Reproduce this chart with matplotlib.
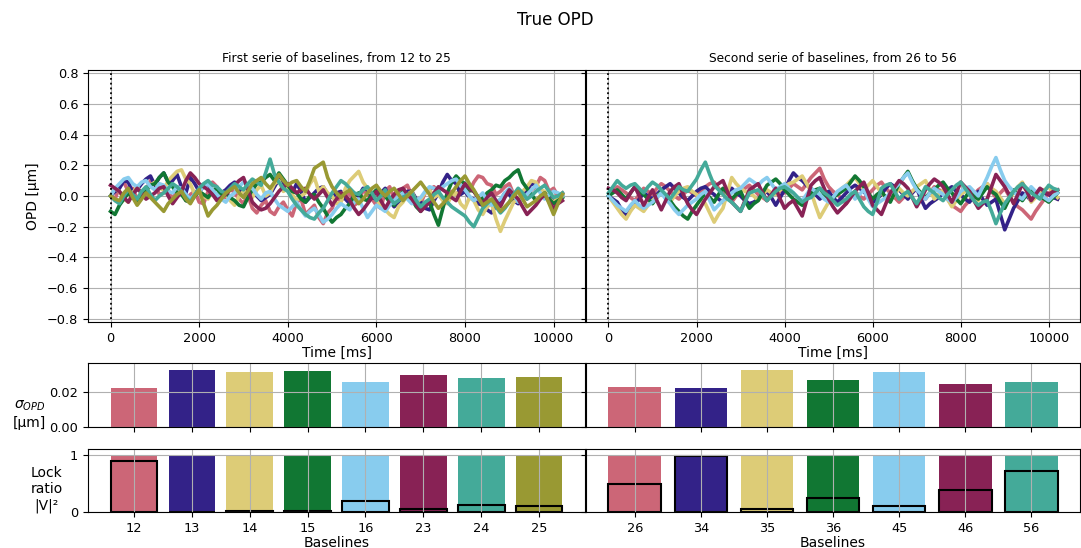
import matplotlib
matplotlib.use('Agg')
import matplotlib.pyplot as plt
import numpy as np

# Paul Tol "muted" colours, one per baseline
colors = ['#CC6677', '#332288', '#DDCC77', '#117733', '#88CCEE', '#882255', '#44AA99', '#999933']

dt = 100  # ms between samples

baselines_1 = ['12', '13', '14', '15', '16', '23', '24', '25']
baselines_2 = ['26', '34', '35', '36', '45', '46', '56']

# OPD traces [um], first serie
opd_12 = [0.00, -0.02, 0.06, 0.09, 0.03, 0.05, -0.02, 0.01, 0.04, 0.10, 0.08, 0.01, 0.02, 0.04, -0.03, 0.06, 0.05, -0.03, 0.01, 0.03, -0.04, -0.05, 0.03, 0.09, 0.06, 0.00, -0.01, 0.05, 0.02, -0.02, -0.05, 0.01, -0.08, -0.11, -0.06, -0.03, -0.10, -0.12, -0.07, -0.04, -0.09, -0.13, -0.04, -0.02, -0.12, -0.09, -0.06, -0.14, -0.18, -0.11, -0.08, -0.01, -0.03, 0.00, 0.02, -0.06, -0.04, 0.04, 0.01, -0.02, -0.06, -0.08, 0.03, 0.06, -0.02, 0.01, 0.05, 0.07, 0.00, -0.03, -0.05, 0.02, 0.04, 0.06, 0.02, -0.02, -0.03, 0.03, 0.01, 0.04, 0.06, 0.03, 0.09, 0.13, 0.12, 0.08, 0.07, 0.01, 0.03, 0.06, 0.08, 0.01, 0.04, 0.00, -0.02, 0.04, 0.06, 0.12, 0.10, 0.03, 0.05, 0.00, 0.02]
opd_13 = [0.00, 0.03, 0.05, 0.10, 0.09, 0.02, 0.04, 0.08, 0.11, 0.13, 0.07, 0.12, 0.15, 0.09, 0.10, 0.14, 0.06, 0.02, 0.12, 0.08, 0.03, 0.06, 0.08, 0.03, -0.02, 0.02, 0.04, 0.07, 0.09, 0.04, 0.02, 0.05, 0.06, 0.00, -0.03, -0.01, 0.01, 0.06, 0.11, 0.07, 0.05, 0.02, 0.08, 0.03, -0.04, -0.01, 0.02, 0.05, 0.06, 0.01, -0.01, 0.02, 0.03, -0.02, -0.05, 0.01, 0.00, 0.05, 0.04, -0.01, -0.02, 0.02, 0.05, -0.03, -0.07, -0.04, -0.01, 0.03, 0.03, -0.02, -0.04, -0.08, -0.09, -0.03, 0.02, 0.09, 0.14, 0.10, 0.08, 0.01, 0.03, -0.01, -0.02, -0.05, -0.06, -0.09, -0.11, -0.06, -0.03, 0.02, 0.01, -0.03, -0.05, 0.01, 0.04, 0.08, 0.07, 0.03, 0.02, -0.01, -0.03, 0.00, 0.01]
opd_14 = [0.00, 0.05, 0.03, -0.02, -0.04, 0.02, 0.06, 0.01, 0.02, 0.07, 0.09, 0.05, 0.04, 0.10, 0.13, 0.16, 0.17, 0.11, 0.08, 0.01, 0.03, 0.00, -0.02, 0.04, 0.05, -0.01, 0.01, -0.03, -0.06, 0.00, 0.03, 0.05, -0.01, 0.04, 0.07, 0.00, 0.02, 0.08, 0.10, 0.03, 0.05, 0.01, -0.03, 0.00, 0.02, 0.08, 0.12, 0.03, 0.06, 0.02, 0.00, -0.05, -0.04, 0.05, 0.10, 0.13, 0.16, 0.09, 0.05, 0.01, -0.02, -0.06, -0.09, -0.12, -0.14, -0.07, -0.04, 0.01, 0.03, -0.04, -0.02, 0.02, 0.04, -0.01, 0.01, -0.03, -0.05, 0.00, 0.02, -0.05, -0.08, -0.01, -0.03, -0.09, -0.12, -0.07, -0.05, -0.15, -0.23, -0.16, -0.10, -0.04, -0.02, 0.03, 0.06, 0.10, 0.09, 0.04, 0.03, -0.02, -0.04, -0.01, 0.01]
opd_15 = [-0.10, -0.12, -0.06, -0.02, 0.02, -0.01, -0.03, 0.01, 0.04, 0.07, 0.08, 0.12, 0.15, 0.09, 0.06, 0.02, 0.01, -0.03, -0.04, 0.00, 0.03, 0.01, -0.01, 0.03, 0.05, 0.00, 0.02, -0.01, -0.03, -0.06, -0.07, -0.01, 0.04, 0.08, 0.09, 0.12, 0.14, 0.10, 0.15, 0.11, 0.07, 0.03, 0.02, -0.02, -0.04, 0.00, 0.01, -0.04, -0.08, -0.13, -0.17, -0.14, -0.12, -0.08, -0.05, 0.00, 0.02, -0.02, -0.03, 0.01, 0.04, 0.02, 0.00, -0.04, -0.06, -0.01, 0.03, 0.00, -0.02, -0.07, -0.10, -0.06, -0.04, -0.12, -0.19, -0.08, 0.02, 0.09, 0.13, 0.10, 0.08, 0.04, 0.03, -0.01, -0.02, 0.02, 0.04, 0.07, 0.06, 0.10, 0.12, 0.15, 0.17, 0.09, 0.05, 0.01, -0.03, -0.01, 0.02, -0.02, -0.05, -0.03, -0.01]
opd_16 = [0.00, 0.05, 0.08, 0.11, 0.12, 0.08, 0.06, 0.09, 0.10, 0.06, 0.04, 0.08, 0.07, 0.03, 0.02, 0.06, 0.05, 0.01, -0.02, 0.01, 0.03, 0.06, 0.08, 0.04, 0.01, -0.02, -0.04, 0.00, 0.02, 0.06, 0.09, 0.07, 0.05, 0.01, -0.02, 0.02, 0.03, -0.02, -0.06, -0.08, -0.10, -0.07, -0.04, -0.09, -0.13, -0.10, -0.08, -0.12, -0.17, -0.15, -0.12, -0.08, -0.05, -0.07, -0.09, -0.04, -0.02, -0.08, -0.14, -0.10, -0.06, -0.08, -0.10, -0.06, -0.03, 0.00, 0.02, -0.02, -0.05, -0.03, -0.01, 0.03, 0.06, 0.05, 0.03, 0.06, 0.08, 0.10, 0.11, 0.07, 0.04, 0.00, -0.03, -0.01, 0.02, -0.03, -0.06, -0.04, -0.02, 0.02, 0.05, 0.01, -0.04, -0.02, 0.01, 0.04, 0.07, 0.02, -0.02, 0.01, 0.03, 0.02, 0.00]
opd_23 = [0.07, 0.05, 0.03, -0.01, -0.04, 0.01, 0.05, 0.02, -0.02, 0.00, 0.02, 0.05, 0.06, 0.00, -0.05, -0.01, 0.03, 0.10, 0.15, 0.12, 0.08, 0.06, 0.04, 0.01, -0.03, -0.01, 0.01, 0.04, 0.07, 0.10, 0.12, 0.04, -0.04, -0.07, -0.09, -0.08, -0.05, -0.01, 0.03, 0.06, 0.08, 0.05, 0.02, 0.04, 0.05, 0.01, -0.02, 0.01, 0.04, -0.01, -0.06, -0.02, 0.02, 0.00, -0.03, -0.08, -0.12, -0.09, -0.05, -0.01, 0.03, -0.03, -0.08, -0.03, 0.01, 0.04, 0.05, 0.01, -0.02, -0.06, -0.10, -0.07, -0.04, 0.02, 0.06, 0.04, 0.02, -0.01, -0.03, 0.03, 0.08, 0.05, 0.03, -0.01, -0.05, -0.01, 0.02, -0.03, -0.07, -0.01, 0.04, 0.01, -0.02, -0.07, -0.12, -0.09, -0.06, -0.02, 0.01, -0.04, -0.08, -0.05, -0.03]
opd_24 = [0.00, -0.03, -0.05, 0.00, 0.04, 0.01, -0.02, 0.03, 0.06, 0.01, -0.03, 0.00, 0.02, 0.05, 0.08, 0.06, 0.03, -0.01, -0.04, 0.01, 0.05, 0.08, 0.10, 0.07, 0.06, 0.03, 0.02, 0.05, 0.08, 0.06, 0.04, 0.08, 0.11, 0.09, 0.07, 0.15, 0.24, 0.14, 0.09, 0.05, 0.03, -0.02, -0.06, -0.09, -0.12, -0.14, -0.15, -0.11, -0.08, -0.03, 0.02, 0.06, 0.10, 0.08, 0.05, 0.02, 0.01, 0.04, 0.06, 0.02, -0.03, 0.00, 0.04, -0.01, -0.05, -0.03, -0.01, 0.01, 0.02, -0.03, -0.07, -0.04, -0.02, 0.01, 0.03, -0.01, -0.04, -0.07, -0.09, -0.11, -0.13, -0.17, -0.20, -0.14, -0.08, -0.05, -0.02, -0.07, -0.11, -0.08, -0.04, 0.01, 0.05, 0.02, -0.02, 0.00, 0.03, 0.05, 0.07, 0.03, -0.01, 0.00, 0.02]
opd_25 = [0.00, -0.02, -0.03, 0.02, 0.05, -0.01, -0.06, -0.02, 0.02, -0.01, -0.04, -0.07, -0.10, -0.05, -0.02, 0.01, 0.03, -0.02, -0.05, 0.00, 0.04, -0.05, -0.13, -0.09, -0.06, -0.02, 0.02, 0.04, 0.06, 0.02, -0.01, 0.03, 0.08, 0.10, 0.12, 0.08, 0.05, 0.09, 0.14, 0.10, 0.07, 0.09, 0.10, 0.06, 0.03, 0.10, 0.18, 0.20, 0.22, 0.12, 0.06, 0.02, -0.01, 0.02, 0.04, -0.01, -0.05, -0.02, 0.02, 0.05, 0.07, 0.03, 0.00, 0.03, 0.05, 0.01, -0.03, 0.00, 0.03, 0.06, 0.09, 0.05, 0.01, -0.04, -0.08, -0.05, -0.02, 0.02, 0.06, 0.10, 0.13, 0.08, 0.04, -0.01, -0.06, -0.04, -0.02, -0.06, -0.10, -0.07, -0.04, 0.00, 0.03, -0.02, -0.07, -0.05, -0.03, 0.00, 0.02, -0.05, -0.12, -0.05, 0.01]

# OPD traces [um], second serie
opd_26 = [0.00, 0.03, 0.06, 0.04, 0.02, -0.01, -0.03, 0.01, 0.05, 0.03, 0.01, 0.05, 0.08, 0.06, 0.03, 0.00, -0.02, 0.01, 0.04, 0.02, 0.00, 0.03, 0.06, 0.08, 0.09, 0.05, 0.02, -0.01, -0.04, 0.00, 0.03, 0.05, 0.07, 0.04, 0.01, -0.01, -0.03, 0.01, 0.05, 0.03, 0.02, 0.05, 0.08, 0.06, 0.04, 0.08, 0.12, 0.15, 0.18, 0.11, 0.06, 0.03, 0.01, -0.02, -0.05, -0.01, 0.03, 0.00, -0.02, 0.01, 0.04, 0.07, 0.09, 0.05, 0.02, -0.01, -0.04, -0.01, 0.01, 0.03, 0.05, 0.01, -0.02, 0.02, 0.06, 0.04, 0.03, -0.02, -0.06, -0.08, -0.10, -0.06, -0.03, 0.01, 0.04, 0.06, 0.08, 0.03, -0.01, 0.02, 0.05, 0.00, -0.04, -0.07, -0.09, -0.12, -0.15, -0.10, -0.06, -0.02, 0.02, 0.00, -0.02]
opd_34 = [0.00, -0.02, -0.04, -0.09, -0.12, -0.09, -0.06, -0.02, 0.02, 0.00, -0.02, 0.01, 0.04, 0.06, 0.08, 0.05, 0.02, -0.01, -0.03, 0.00, 0.03, 0.05, 0.06, 0.03, 0.01, -0.02, -0.04, 0.01, 0.05, 0.02, 0.00, -0.03, -0.05, -0.04, -0.02, 0.01, 0.03, -0.01, -0.06, -0.01, 0.04, 0.10, 0.15, 0.12, 0.10, 0.07, 0.05, 0.01, -0.02, 0.01, 0.03, -0.01, -0.04, -0.01, 0.02, 0.05, 0.07, 0.05, 0.03, -0.01, -0.05, -0.02, 0.01, 0.05, 0.08, 0.06, 0.04, 0.01, -0.02, 0.02, 0.05, -0.02, -0.08, -0.05, -0.03, -0.01, 0.02, 0.04, 0.06, 0.03, 0.01, -0.02, -0.04, 0.00, 0.03, -0.02, -0.06, -0.04, -0.02, -0.12, -0.22, -0.15, -0.08, -0.03, 0.02, 0.00, -0.03, 0.01, 0.04, 0.02, 0.01, -0.01, -0.02]
opd_35 = [0.00, -0.04, -0.08, -0.12, -0.15, -0.10, -0.06, -0.08, -0.10, -0.06, -0.03, 0.00, 0.02, -0.01, -0.04, 0.00, 0.03, 0.05, 0.06, 0.03, 0.01, -0.02, -0.05, -0.11, -0.17, -0.12, -0.08, 0.02, 0.12, 0.08, 0.05, 0.03, 0.02, 0.00, -0.03, 0.01, 0.04, 0.02, 0.01, 0.04, 0.06, 0.08, 0.09, 0.11, 0.13, 0.08, 0.03, -0.06, -0.14, -0.09, -0.04, -0.01, 0.02, 0.05, 0.07, 0.10, 0.12, 0.08, 0.04, 0.07, 0.10, 0.06, 0.02, -0.01, -0.03, 0.01, 0.05, 0.02, 0.00, 0.03, 0.06, 0.08, 0.10, 0.04, -0.02, 0.01, 0.04, -0.02, -0.07, -0.03, 0.01, 0.03, 0.05, 0.01, -0.03, 0.03, 0.08, 0.05, 0.03, -0.01, -0.05, -0.02, 0.02, 0.06, 0.09, 0.03, -0.04, -0.01, 0.02, 0.04, 0.06, 0.02, -0.01]
opd_36 = [0.00, 0.02, 0.04, 0.01, -0.02, 0.02, 0.06, 0.03, 0.01, -0.02, -0.05, -0.01, 0.03, 0.00, -0.03, -0.07, -0.10, -0.13, -0.15, -0.10, -0.06, -0.02, 0.02, -0.01, -0.04, 0.01, 0.05, 0.02, -0.02, 0.01, 0.03, -0.03, -0.08, -0.05, -0.03, 0.02, 0.07, 0.09, 0.11, 0.08, 0.04, 0.01, -0.02, -0.04, -0.06, -0.02, 0.02, 0.04, 0.05, 0.01, -0.03, -0.01, 0.01, 0.03, 0.05, 0.09, 0.13, 0.10, 0.06, 0.02, -0.02, 0.01, 0.03, -0.01, -0.04, 0.02, 0.08, 0.12, 0.16, 0.10, 0.05, 0.02, -0.01, 0.02, 0.04, 0.07, 0.09, 0.05, 0.02, -0.02, -0.05, -0.01, 0.03, 0.00, -0.02, 0.02, 0.06, 0.03, 0.01, -0.04, -0.08, -0.02, 0.04, 0.00, -0.03, 0.01, 0.05, 0.02, 0.00, -0.02, -0.04, -0.01, 0.02]
opd_45 = [0.00, -0.03, -0.06, -0.08, -0.10, -0.06, -0.03, -0.06, -0.08, -0.06, -0.04, -0.01, 0.02, -0.02, -0.05, -0.09, -0.12, -0.09, -0.06, -0.04, -0.02, 0.01, 0.03, -0.03, -0.09, -0.06, -0.03, -0.01, 0.02, 0.04, 0.05, 0.08, 0.11, 0.09, 0.07, 0.10, 0.12, 0.08, 0.04, 0.06, 0.08, 0.05, 0.02, -0.01, -0.03, 0.01, 0.05, 0.03, 0.01, -0.02, -0.04, -0.01, 0.03, 0.05, 0.07, 0.03, -0.02, 0.01, 0.04, -0.02, -0.07, -0.05, -0.03, -0.01, 0.02, 0.05, 0.08, 0.12, 0.15, 0.09, 0.04, 0.01, -0.02, 0.02, 0.05, 0.03, 0.01, -0.02, -0.04, -0.01, 0.03, 0.05, 0.06, 0.03, 0.00, 0.06, 0.12, 0.19, 0.25, 0.17, 0.10, 0.06, 0.03, 0.00, -0.02, 0.02, 0.06, 0.03, 0.01, -0.01, -0.03, 0.00, 0.02]
opd_46 = [0.05, 0.04, 0.02, -0.01, -0.03, 0.02, 0.06, 0.00, -0.06, -0.01, 0.04, -0.03, -0.09, -0.03, 0.03, 0.06, 0.08, 0.01, -0.05, -0.09, -0.12, -0.07, -0.02, 0.02, 0.06, 0.08, 0.10, 0.03, -0.04, -0.07, -0.10, -0.03, 0.04, 0.06, 0.08, 0.02, -0.03, 0.01, 0.05, -0.02, -0.08, -0.05, -0.03, -0.08, -0.13, -0.03, 0.07, 0.10, 0.12, 0.05, -0.02, -0.07, -0.11, -0.08, -0.05, -0.01, 0.03, 0.06, 0.09, 0.02, -0.06, -0.09, -0.12, -0.05, 0.02, 0.06, 0.10, 0.08, 0.05, -0.01, -0.07, -0.02, 0.04, 0.08, 0.11, 0.09, 0.06, 0.01, -0.04, 0.02, 0.09, 0.06, 0.03, -0.03, -0.08, -0.05, -0.02, 0.06, 0.14, 0.10, 0.06, 0.01, -0.05, 0.01, 0.08, 0.03, -0.03, 0.01, 0.05, 0.03, 0.01, 0.03, 0.04]
opd_56 = [0.02, 0.06, 0.10, 0.07, 0.05, 0.07, 0.08, 0.05, 0.02, 0.06, 0.09, 0.07, 0.04, 0.01, -0.02, 0.02, 0.06, 0.04, 0.03, 0.07, 0.11, 0.17, 0.22, 0.14, 0.07, 0.04, 0.01, -0.02, -0.04, -0.07, -0.10, -0.04, 0.02, 0.03, 0.04, 0.01, -0.03, 0.00, 0.03, 0.05, 0.06, 0.04, 0.02, -0.01, -0.04, -0.02, -0.01, 0.02, 0.05, 0.02, 0.00, -0.03, -0.06, -0.04, -0.02, 0.01, 0.03, -0.02, -0.07, -0.10, -0.12, -0.04, 0.05, 0.07, 0.08, 0.03, -0.02, 0.01, 0.03, -0.01, -0.05, 0.00, 0.06, 0.04, 0.02, -0.01, -0.03, 0.01, 0.04, 0.07, 0.09, 0.05, 0.01, -0.03, -0.06, -0.04, -0.03, -0.10, -0.18, -0.11, -0.05, -0.01, 0.03, 0.06, 0.08, 0.05, 0.02, 0.00, -0.02, 0.03, 0.07, 0.05, 0.04]

# OPD standard deviation [um]
std_1 = [0.0223, 0.0326, 0.0314, 0.0320, 0.0257, 0.0297, 0.0280, 0.0286]
std_2 = [0.0227, 0.0221, 0.0323, 0.0268, 0.0314, 0.0245, 0.0257]

# fringe lock ratio and squared visibility
lock_1 = [1, 1, 1, 1, 1, 1, 1, 1]
lock_2 = [1, 1, 1, 1, 1, 1, 1]
vis2_1 = [0.89, 0.0, 0.02, 0.01, 0.19, 0.05, 0.12, 0.11]
vis2_2 = [0.48, 0.97, 0.05, 0.24, 0.11, 0.38, 0.71]


def plot_column(fig, x0, w, traces, baselines, std, lock, vis2, title, first):
	''' Draws one serie of baselines: OPD traces, std bars and lock ratio bars'''

	ax_opd = fig.add_axes([x0, 0.4124, w, 0.4599])
	ax_std = fig.add_axes([x0, 0.2208, w, 0.1168])
	ax_lock = fig.add_axes([x0, 0.0657, w, 0.1150])

	for i, y in enumerate(traces):
		t = np.arange(len(y)) * dt
		ax_opd.plot(t, y, color=colors[i], lw=2.6)
	ax_opd.axvline(0, ymin=0.01, ymax=0.99, color='k', ls=':', lw=1.3)
	ax_opd.set_xlim(-510, 10710)
	ax_opd.set_ylim(-0.82, 0.82)
	ax_opd.set_yticks(np.arange(-0.8, 0.81, 0.2))
	ax_opd.set_xlabel('Time [ms]', fontsize=10, labelpad=1)
	ax_opd.set_title(title, fontsize=8.8)
	ax_opd.grid(True)

	pos = np.arange(len(baselines))
	ax_std.bar(pos, std, color=colors[:len(baselines)])
	ax_std.set_ylim(0, 0.0363)
	ax_std.set_xticks(pos)
	ax_std.set_xticklabels([])
	ax_std.grid(True)

	ax_lock.bar(pos, lock, color=colors[:len(baselines)])
	ax_lock.bar(pos, vis2, color=colors[:len(baselines)], edgecolor='k', lw=1.5)
	ax_lock.set_ylim(0, 1.1)
	ax_lock.set_xticks(pos)
	ax_lock.set_xticklabels(baselines)
	ax_lock.set_xlabel('Baselines', fontsize=10, labelpad=1)
	ax_lock.grid(True)

	for ax in (ax_opd, ax_std, ax_lock):
		ax.tick_params(labelsize=9.3)

	if first:
		ax_opd.set_ylabel('OPD [µm]', fontsize=10)
		ax_opd.yaxis.set_label_coords(-0.097, 0.5)
		ax_std.set_yticks([0.0, 0.02])
		ax_std.set_ylabel(r'$\sigma_{OPD}$' + '\n[µm]', fontsize=10, rotation=0, ha='center', va='center')
		ax_std.yaxis.set_label_coords(-0.118, 0.2)
		ax_lock.set_yticks([0, 1])
		ax_lock.set_ylabel('Lock\nratio\n|V|²', fontsize=10, rotation=0, ha='center', va='center')
		ax_lock.yaxis.set_label_coords(-0.083, 0.36)
	else:
		ax_opd.set_yticklabels([])
		ax_std.set_yticks([0.0, 0.02])
		ax_std.set_yticklabels([])
		ax_lock.set_yticks([0, 1])
		ax_lock.set_yticklabels([])

	return


def main():
	''' Builds the figure'''

	fig = plt.figure(figsize=(10.81, 5.48), dpi=100)
	fig.suptitle('True OPD', fontsize=12, x=0.514)

	plot_column(fig, 0.0814, 0.4598,
		[opd_12, opd_13, opd_14, opd_15, opd_16, opd_23, opd_24, opd_25],
		baselines_1, std_1, lock_1, vis2_1,
		'First serie of baselines, from 12 to 25', True)
	plot_column(fig, 0.5421, 0.4570,
		[opd_26, opd_34, opd_35, opd_36, opd_45, opd_46, opd_56],
		baselines_2, std_2, lock_2, vis2_2,
		'Second serie of baselines, from 26 to 56', False)

	fig.savefig('out.png', dpi=100)


if __name__ == '__main__':
	main()
